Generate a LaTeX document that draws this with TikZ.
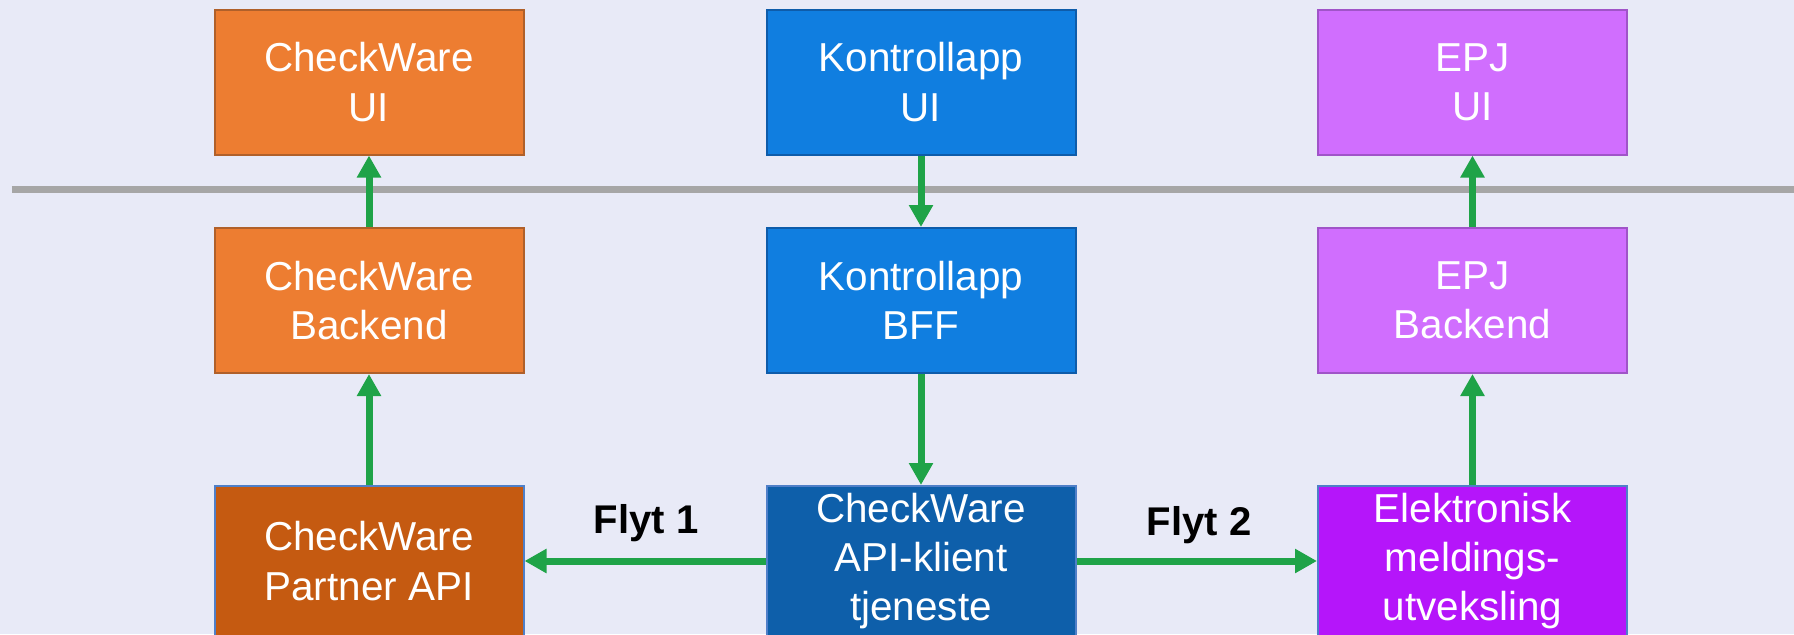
\documentclass[tikz,border=0pt]{standalone}
\usepackage{fontspec}
\setmainfont{Liberation Sans}
\usetikzlibrary{arrows.meta}

\definecolor{bglav}{HTML}{E8EAF7}
\definecolor{cworange}{HTML}{ED7D31}
\definecolor{cworangeline}{HTML}{B0602A}
\definecolor{cwdark}{HTML}{C55A11}
\definecolor{kablue}{HTML}{107EE0}
\definecolor{kablueline}{HTML}{0E5CAA}
\definecolor{klientblue}{HTML}{0E5FAA}
\definecolor{epjpink}{HTML}{D06EFE}
\definecolor{epjpinkline}{HTML}{A054C8}
\definecolor{meldviolet}{HTML}{B515FA}
\definecolor{bottomline}{HTML}{4F7FC8}
\definecolor{flowgreen}{HTML}{1FA348}
\definecolor{splitgray}{HTML}{A6A6A6}

\tikzset{
	box/.style={draw, line width=0.2mm, minimum width=3.09cm, minimum height=1.45cm,
		inner sep=0pt, align=center, text=white, font=\fontsize{11.5}{14}\selectfont},
	lowbox/.style={box, minimum height=1.5cm, draw=bottomline},
	flow/.style={line width=0.7mm, color=flowgreen, -{Triangle[width=2.3mm,length=2.2mm]}},
	flytlabel/.style={font=\fontsize{11.4}{13}\selectfont\bfseries}
}

\begin{document}
\begin{tikzpicture}
	%%%%% START %%%%%
	
	\useasboundingbox (0, 0) rectangle (17.94, 6.34);
	\clip (0, 0) rectangle (17.94, 6.34);
	\fill[bglav] (0, 0) rectangle (17.94, 6.34);
	
	\draw[line width=0.7mm, color=splitgray] (0.12, 4.45) -- (17.94, 4.45);
	
	% CheckWare
	\node[box, fill=cworange, draw=cworangeline] (cwui) at (3.69, 5.52) {CheckWare\\UI};
	\node[box, fill=cworange, draw=cworangeline] (cwbackend) at (3.69, 3.335) {CheckWare\\Backend};
	\node[lowbox, fill=cwdark] (cwpartner) at (3.69, 0.73) {CheckWare\\Partner API};
	
	% Kontrollapp
	\node[box, fill=kablue, draw=kablueline] (kaui) at (9.21, 5.52) {Kontrollapp\\UI};
	\node[box, fill=kablue, draw=kablueline] (kabff) at (9.21, 3.335) {Kontrollapp\\BFF};
	\node[lowbox, fill=klientblue] (cwklient) at (9.21, 0.73) {CheckWare\\API-klient\\tjeneste};
	
	% EPJ
	\node[box, fill=epjpink, draw=epjpinkline] (epjui) at (14.725, 5.52) {EPJ\\UI};
	\node[box, fill=epjpink, draw=epjpinkline] (epjbackend) at (14.725, 3.335) {EPJ\\Backend};
	\node[lowbox, fill=meldviolet] (meldinger) at (14.725, 0.73) {Elektronisk\\meldings-\\utveksling};
	
	\draw[flow] (cwpartner) -- (cwbackend);
	\draw[flow] (cwbackend) -- (cwui);
	\draw[flow] (kaui) -- (kabff);
	\draw[flow] (kabff) -- (cwklient);
	\draw[flow] (meldinger) -- (epjbackend);
	\draw[flow] (epjbackend) -- (epjui);
	\draw[flow] (cwklient) -- (cwpartner);
	\draw[flow] (cwklient) -- (meldinger);
	
	\node[flytlabel] (flyt1) at (6.46, 1.11) {Flyt 1};
	\node[flytlabel] (flyt2) at (11.99, 1.09) {Flyt 2};
	
	%%%%% END %%%%%
\end{tikzpicture}
\end{document}
